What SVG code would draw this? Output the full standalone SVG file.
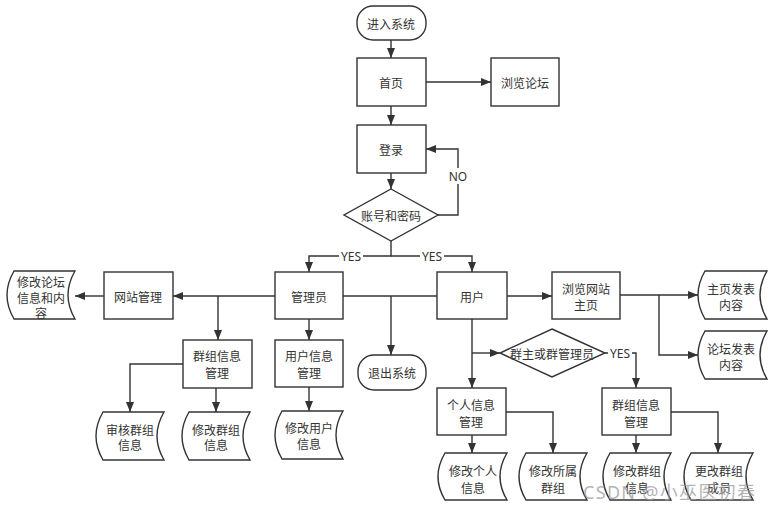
<svg xmlns="http://www.w3.org/2000/svg" width="771" height="510" viewBox="0 0 771 510">
<style>
.b{fill:#fff;stroke:#333;stroke-width:1.4}
.t{font-family:"Noto Sans CJK SC","Noto Sans",sans-serif;font-size:12px;fill:#333;text-anchor:middle;dominant-baseline:central}
.c{fill:none;stroke:#333;stroke-width:1.4}
.lb{font-family:"Noto Sans","Liberation Sans",sans-serif;font-size:12px;fill:#333;text-anchor:middle;dominant-baseline:central}
</style>
<defs>
<marker id="a" viewBox="0 0 10 8" markerWidth="10" markerHeight="8" refX="10" refY="4" orient="auto" markerUnits="userSpaceOnUse">
<path d="M0,0 L10,4 L0,8 Z" fill="#333"/>
</marker>
</defs>
<rect width="771" height="510" fill="#fff"/>
<g id="connectors">
<path class="c" d="M391 40 V58" marker-end="url(#a)"/>
<path class="c" d="M426 82 H491" marker-end="url(#a)"/>
<path class="c" d="M391 106 V125" marker-end="url(#a)"/>
<path class="c" d="M391 173 V189" marker-end="url(#a)"/>
<path class="c" d="M438 215 H458 V149 H426" marker-end="url(#a)"/>
<path class="c" d="M391 241 V256 H309 V272" marker-end="url(#a)"/>
<path class="c" d="M391 256 H472 V272" marker-end="url(#a)"/>
<path class="c" d="M275 296 H173" marker-end="url(#a)"/>
<path class="c" d="M218 296 V340" marker-end="url(#a)"/>
<path class="c" d="M104 296 H75" marker-end="url(#a)"/>
<path class="c" d="M309 319 V340" marker-end="url(#a)"/>
<path class="c" d="M343 296 H437"/>
<path class="c" d="M391 296 V355" marker-end="url(#a)"/>
<path class="c" d="M183 364 H130 V412" marker-end="url(#a)"/>
<path class="c" d="M216 388 V412" marker-end="url(#a)"/>
<path class="c" d="M309 387 V411" marker-end="url(#a)"/>
<path class="c" d="M507 296 H552" marker-end="url(#a)"/>
<path class="c" d="M620 295 H698" marker-end="url(#a)"/>
<path class="c" d="M659 295 V355 H698" marker-end="url(#a)"/>
<path class="c" d="M472 319 V388" marker-end="url(#a)"/>
<path class="c" d="M472 353 H500" marker-end="url(#a)"/>
<path class="c" d="M605 353 H636 V388" marker-end="url(#a)"/>
<path class="c" d="M472 435 V453" marker-end="url(#a)"/>
<path class="c" d="M506 412 H553 V453" marker-end="url(#a)"/>
<path class="c" d="M636 435 V453" marker-end="url(#a)"/>
<path class="c" d="M671 412 H718 V453" marker-end="url(#a)"/>
<rect x="448" y="168" width="20" height="16" fill="#fff"/>
<text class="lb" x="458" y="176">NO</text>
<rect x="339" y="249" width="24" height="14" fill="#fff"/>
<text class="lb" x="351" y="256">YES</text>
<rect x="420" y="249" width="24" height="14" fill="#fff"/>
<text class="lb" x="432" y="256">YES</text>
<rect x="608" y="346" width="24" height="14" fill="#fff"/>
<text class="lb" x="620" y="353">YES</text>
</g>
<g id="start"><rect class="b" x="357" y="6" width="69" height="34" rx="16"/><text class="t" x="391" y="23">进入系统</text></g>
<g id="home"><rect class="b" x="357" y="58" width="69" height="48"/><text class="t" x="391" y="82">首页</text></g>
<g id="forum"><rect class="b" x="491" y="58" width="68" height="48"/><text class="t" x="525" y="82">浏览论坛</text></g>
<g id="login"><rect class="b" x="357" y="125" width="69" height="48"/><text class="t" x="391" y="149">登录</text></g>
<g id="account"><path class="b" d="M391 189 L438 215 L391 241 L344 215 Z"/><text class="t" x="391" y="215">账号和密码</text></g>
<g id="site"><rect class="b" x="104" y="272" width="69" height="47"/><text class="t" x="138" y="296">网站管理</text></g>
<g id="admin"><rect class="b" x="275" y="272" width="68" height="47"/><text class="t" x="309" y="296">管理员</text></g>
<g id="user"><rect class="b" x="437" y="272" width="70" height="47"/><text class="t" x="472" y="296">用户</text></g>
<g id="browse"><rect class="b" x="552" y="272" width="68" height="47"/><text class="t" x="586" y="288">浏览网站</text><text class="t" x="586" y="304">主页</text></g>
<g id="adminGroup"><rect class="b" x="183" y="340" width="69" height="48"/><text class="t" x="217" y="355">群组信息</text><text class="t" x="217" y="372">管理</text></g>
<g id="adminUser"><rect class="b" x="275" y="340" width="68" height="47"/><text class="t" x="309" y="355">用户信息</text><text class="t" x="309" y="372">管理</text></g>
<g id="exit"><rect class="b" x="358" y="355" width="68" height="35" rx="16"/><text class="t" x="392" y="372">退出系统</text></g>
<g id="owner"><path class="b" d="M552 329 L605 353 L552 377 L500 353 Z"/><text class="t" x="552" y="353">群主或群管理员</text></g>
<g id="personal"><rect class="b" x="437" y="388" width="69" height="47"/><text class="t" x="471" y="404">个人信息</text><text class="t" x="471" y="421">管理</text></g>
<g id="userGroup"><rect class="b" x="602" y="388" width="69" height="47"/><text class="t" x="636" y="404">群组信息</text><text class="t" x="636" y="421">管理</text></g>
<g id="s1"><path class="b" d="M14 271 H75 Q61 295 75 319 H14 Q0 295 14 271 Z"/><text class="t" x="41" y="281">修改论坛</text><text class="t" x="41" y="297">信息和内</text><text class="t" x="41" y="312">容</text></g>
<g id="s2"><path class="b" d="M705 271 H767 Q753 295 767 319 H705 Q691 295 705 271 Z"/><text class="t" x="731" y="288">主页发表</text><text class="t" x="731" y="304">内容</text></g>
<g id="s3"><path class="b" d="M705 331 H767 Q753 355 767 379 H705 Q691 355 705 331 Z"/><text class="t" x="731" y="348">论坛发表</text><text class="t" x="731" y="364">内容</text></g>
<g id="s4"><path class="b" d="M103 412 H164 Q150 436 164 460 H103 Q89 436 103 412 Z"/><text class="t" x="130" y="429">审核群组</text><text class="t" x="130" y="444">信息</text></g>
<g id="s5"><path class="b" d="M189 412 H250 Q236 436 250 460 H189 Q175 436 189 412 Z"/><text class="t" x="216" y="429">修改群组</text><text class="t" x="216" y="444">信息</text></g>
<g id="s6"><path class="b" d="M282 411 H343 Q329 435 343 459 H282 Q268 435 282 411 Z"/><text class="t" x="309" y="427">修改用户</text><text class="t" x="309" y="443">信息</text></g>
<g id="s7"><path class="b" d="M445 453 H507 Q493 476.5 507 500 H445 Q431 476.5 445 453 Z"/><text class="t" x="473" y="470">修改个人</text><text class="t" x="473" y="487">信息</text></g>
<g id="s8"><path class="b" d="M526 453 H587 Q573 476.5 587 500 H526 Q512 476.5 526 453 Z"/><text class="t" x="553" y="470">修改所属</text><text class="t" x="553" y="487">群组</text></g>
<g id="s9"><path class="b" d="M610 453 H671 Q657 476.5 671 500 H610 Q596 476.5 610 453 Z"/><text class="t" x="637" y="470">修改群组</text><text class="t" x="637" y="487">信息</text></g>
<g id="s10"><path class="b" d="M691 453 H753 Q739 476.5 753 500 H691 Q677 476.5 691 453 Z"/><text class="t" x="719" y="470">更改群组</text><text class="t" x="719" y="487">成员</text></g>
<text x="583" y="499" font-family="Noto Sans, Noto Sans CJK SC, sans-serif" font-size="18" fill="#9a9a9a" fill-opacity="0.75" textLength="172">CSDN @小巫医初春</text>
</svg>
